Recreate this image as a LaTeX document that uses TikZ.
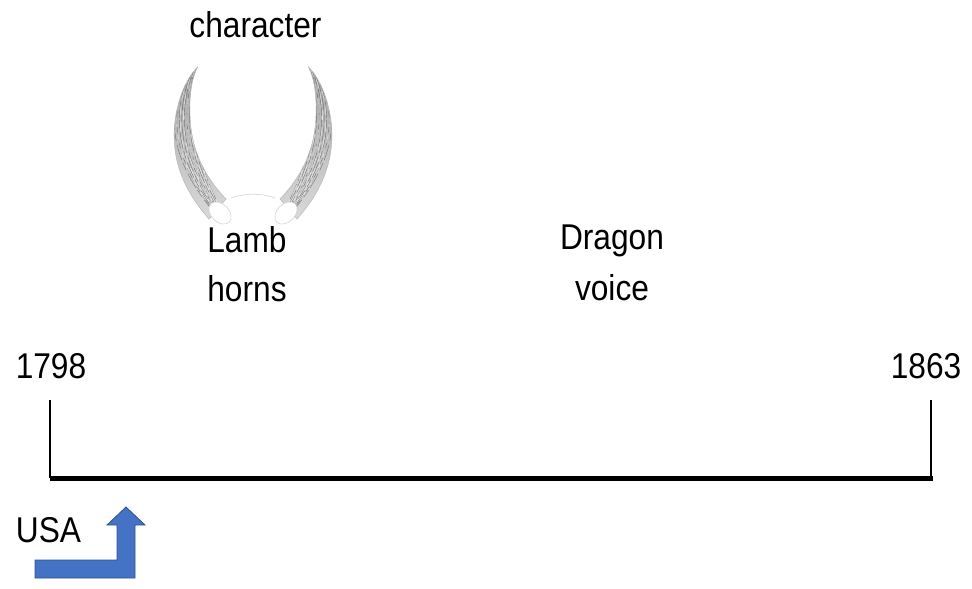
\documentclass[tikz,border=0pt]{standalone}
\usepackage{fontspec}
\setmainfont{Liberation Sans}
% slightly tall lettering
\newcommand{\tallword}[1]{\scalebox{0.99}[1.12]{#1}}
\begin{document}
\begin{tikzpicture}[x=1pt,y=-1pt,
  label/.style={inner sep=0pt, anchor=base, font=\fontsize{32}{38}\selectfont},
  thinrule/.style={line width=1.4pt, black},
  thickrule/.style={line width=5pt, black},
  bluearrow/.style={fill={rgb,255:red,68;green,114;blue,196}, draw={rgb,255:red,47;green,82;blue,143}, line width=0.8pt},
  hornfill/.style={left color=gray!70, right color=gray!30, shading angle=0},
  hornstreak/.style={draw=gray!45!black, line width=0.45pt, line cap=round, opacity=0.55},
  hornlight/.style={draw=white, line width=0.6pt, line cap=round, opacity=0.6},
  capstyle/.style={fill=white, draw=gray!40, line width=0.5pt}]
\useasboundingbox (0,0) rectangle (972,589);

% ---- horns ----
\def\hornpath{(197.5,67) .. controls (181,84) and (171,118) .. (175,150)
  .. controls (179,180) and (194,202) .. (209,219)
  -- (226,199)
  .. controls (210,182) and (195,160) .. (191,128)
  .. controls (188,102) and (191,80) .. (197.5,67) -- cycle}
\foreach \sh/\xs in {0/1, 506/-1}{
  \begin{scope}[shift={(\sh,0)}, xscale=\xs]
    \shade[hornfill] \hornpath;
    \begin{scope}
      \clip \hornpath;
      \foreach \d in {-10,-7,...,14}{
        \draw[hornstreak, dash pattern=on 16pt off 3pt on 8pt off 4pt, dash phase=\d*2.3pt]
          (196+0.3*\d,64) .. controls (178+\d,100) and (172+\d,150) .. (219+0.6*\d,215+0.4*\d);
      }
      \foreach \d in {-8,-4,...,12}{
        \draw[hornlight, dash pattern=on 10pt off 6pt, dash phase=\d*3pt]
          (196+0.3*\d,64) .. controls (179+\d,100) and (173+\d,150) .. (220+0.6*\d,215+0.4*\d);
      }
    \end{scope}
    \draw[gray!60, line width=0.4pt] \hornpath;
    \draw[capstyle, rotate around={-45:(220,213)}] (220,213) ellipse (13 and 9);
  \end{scope}
}
% band joining the horn bases
\draw[gray!30, line width=0.7pt] (231,198) .. controls (245,193) and (262,193) .. (275,198);

% ---- labels ----
\node[label] (character) at (255.5,37) {\tallword{character}};
\node[label] (lamb)   at (247,252) {\tallword{Lamb}};
\node[label] (horns)  at (247,301) {\tallword{horns}};
\node[label] (dragon) at (612,249) {\tallword{Dragon}};
\node[label] (voice)  at (612,300) {\tallword{voice}};
\node[label] (start)  at (51,378) {\tallword{1798}};
\node[label] (finish) at (926,378) {\tallword{1863}};
\node[label] (usa)    at (48.5,542) {\tallword{USA}};

% ---- timeline ----
\coordinate (tlA) at (50,400);
\coordinate (tlB) at (931,400);
\coordinate (baseA) at (50,478);
\coordinate (baseB) at (933,478);
\draw[thinrule] (tlA) -- (baseA);
\draw[thinrule] (tlB) -- (tlB |- baseB);
\draw[thickrule] (baseA) -- (baseB);

% ---- bent-up arrow ----
\draw[bluearrow] (35,560) -- (117,560) -- (117,525) -- (107,525) -- (126,507)
  -- (145,525) -- (135,525) -- (135,578) -- (35,578) -- cycle;
\end{tikzpicture}
\end{document}
